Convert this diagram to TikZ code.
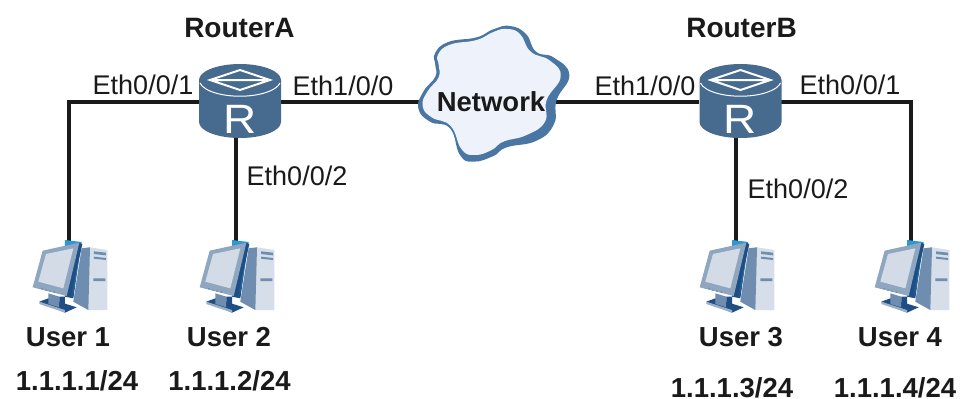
\documentclass[tikz,border=0pt]{standalone}
\usepackage{fontspec}
\setmainfont{Liberation Sans}
\definecolor{rblue}{HTML}{476A8F}
\definecolor{cblue}{HTML}{4A76A3}
\definecolor{cfill}{HTML}{EEF3FB}
\definecolor{txt}{HTML}{1A1A1A}
\definecolor{pcframe}{HTML}{8FA6C0}
\definecolor{pcscreen}{HTML}{D2DBE6}
\definecolor{pcside}{HTML}{6F8DAE}
\definecolor{pcfront}{HTML}{D5DEE9}
\definecolor{pcdark}{HTML}{1F4E85}
\definecolor{pcbright}{HTML}{2E9BD6}
\tikzset{
  lbl/.style={font=\fontsize{27}{29}\selectfont,text=txt,inner sep=0pt},
  blbl/.style={font=\fontsize{27.5}{29}\selectfont\bfseries,text=txt,inner sep=0pt},
  rlbl/.style={font=\fontsize{28}{30}\selectfont\bfseries,text=txt,inner sep=0pt},
  netlbl/.style={font=\fontsize{27.5}{29}\selectfont\bfseries,text=txt,inner sep=0pt},
  link/.style={draw=txt,line width=3.6pt},
  anchorbox/.style={inner sep=0pt,minimum width=#1,minimum height=4pt},
  pics/routerpic/.style={code={
    \fill[rblue] (-41,0) arc[start angle=180,end angle=360,x radius=41,y radius=16]
       -- (41,42) arc[start angle=0,end angle=180,x radius=41,y radius=16] -- cycle;
    \draw[white,line width=1pt] (-40,3) arc[start angle=170,end angle=10,x radius=40.6,y radius=16];
    \draw[white,line width=2pt,line join=miter] (-30,0) -- (0,-10) -- (30,0) -- (0,10) -- cycle (-30,0) -- (30,0);
    \node[text=white,inner sep=0pt,font=\fontsize{41}{41}\selectfont,xscale=1.12] at (0,39.5) {R};
  }},
  pics/pcpic/.style={code={
    \begin{scope}[scale=1/3]
    \shade[top color=pcbright,bottom color=pcdark] (135,30) -- (185,36) -- (160,205) -- (135,200) -- cycle;
    \fill[pcfront] (185,55) -- (210,52) -- (262,60) -- (262,240) -- (205,240) -- (160,215) -- cycle;
    \fill[pcside] (185,55) -- (210,52) -- (205,240) -- (160,215) -- cycle;
    \fill[pcside] (222,64) -- (258,68) -- (258,76) -- (222,72) -- cycle
       (222,80) -- (258,84) -- (258,90) -- (222,86) -- cycle
       (220,145) -- (256,145) -- (256,153) -- (220,153) -- cycle;
    \fill[pcdark] (58,215) -- (85,205) -- (170,232) -- (135,248) -- cycle;
    \fill[pcside!70] (58,215) -- (135,240) -- (135,248) -- (58,222) -- cycle;
    \fill[pcside] (85,190) -- (118,200) -- (118,232) -- (85,222) -- cycle;
    \fill[pcdark] (118,200) -- (135,200) -- (135,238) -- (118,232) -- cycle;
    \fill[pcdark] (176,38) -- (187,42) -- (152,200) -- (140,198) -- cycle;
    \fill[pcframe] (68,62) -- (178,38) -- (140,198) -- (38,172) -- cycle;
    \fill[pcscreen] (78,72) -- (160,55) -- (130,175) -- (55,155) -- cycle;
    \fill[pcside] (66,176) circle (2.5) (78,180) circle (2.5) (90,183) circle (2.5) (103,186) circle (3);
    \end{scope}
  }},
}
\begin{document}
\begin{tikzpicture}[x=1pt,y=-1pt]
\useasboundingbox (0,0) rectangle (962,399);
\fill[white] (0,0) rectangle (962,399);
% anchors for the devices
\node[anchorbox=82pt] (ra) at (240,102) {};
\node[anchorbox=82pt] (rb) at (740,102) {};
\node[anchorbox=100pt] (net) at (490,102) {};
\coordinate (u1) at (69,242);
\coordinate (u2) at (236,242);
\coordinate (u3) at (736,242);
\coordinate (u4) at (911,242);
\coordinate (ra2) at (236,130);
\coordinate (rb2) at (736,130);
% connectors
\draw[link] (ra.west) -| (u1);
\draw[link] (ra2) -- (u2);
\draw[link] (ra.east) -- (net.west);
\draw[link] (net.east) -- (rb.west);
\draw[link] (rb2) -- (u3);
\draw[link] (rb.east) -| (u4);
% routers
\pic at (240,80) {routerpic};
\pic at (740.5,80) {routerpic};
% cloud
\begin{scope}[shift={(410,20)},scale=1/3]
\fill[cblue] plot[smooth cycle,tension=0.8] coordinates {(76,135)(75,100)(115,66)(200,52)(250,28)(300,18)(348,42)(378,95)(432,113)(478,165)(440,240)(432,312)(380,362)(290,382)(250,408)(190,425)(150,405)(120,325)(60,305)(25,265)(40,215)(76,170)};
\fill[cfill] plot[smooth cycle,tension=0.8] coordinates {(86,135)(84,104)(120,74)(200,60)(250,36)(290,27)(330,42)(362,95)(420,122)(452,170)(410,240)(405,305)(350,345)(280,365)(245,390)(195,405)(155,388)(122,318)(65,292)(38,258)(52,215)(86,172)};
\end{scope}
% PCs
\pic at (20,230) {pcpic};
\pic at (187,230) {pcpic};
\pic at (687,230) {pcpic};
\pic at (862,230) {pcpic};
% labels
\node[rlbl] (t1) at (239.5,28) {RouterA};
\node[rlbl] (t2) at (741.5,28) {RouterB};
\node[netlbl] (t3) at (491,102) {Network};
\node[lbl] (e1) at (143,85) {Eth0/0/1};
\node[lbl] (e2) at (343,86) {Eth1/0/0};
\node[lbl] (e3) at (297,176) {Eth0/0/2};
\node[lbl] (e4) at (645,86) {Eth1/0/0};
\node[lbl] (e5) at (850,85) {Eth0/0/1};
\node[lbl] (e6) at (798,189) {Eth0/0/2};
\node[blbl] (n1) at (68,337) {User 1};
\node[blbl] (n2) at (229,337) {User 2};
\node[blbl] (n3) at (741,337) {User 3};
\node[blbl] (n4) at (900,337) {User 4};
\node[blbl] (a1) at (77,381) {1.1.1.1/24};
\node[blbl] (a2) at (229.5,381) {1.1.1.2/24};
\node[blbl] (a3) at (732,388) {1.1.1.3/24};
\node[blbl] (a4) at (895,388) {1.1.1.4/24};
\end{tikzpicture}
\end{document}
